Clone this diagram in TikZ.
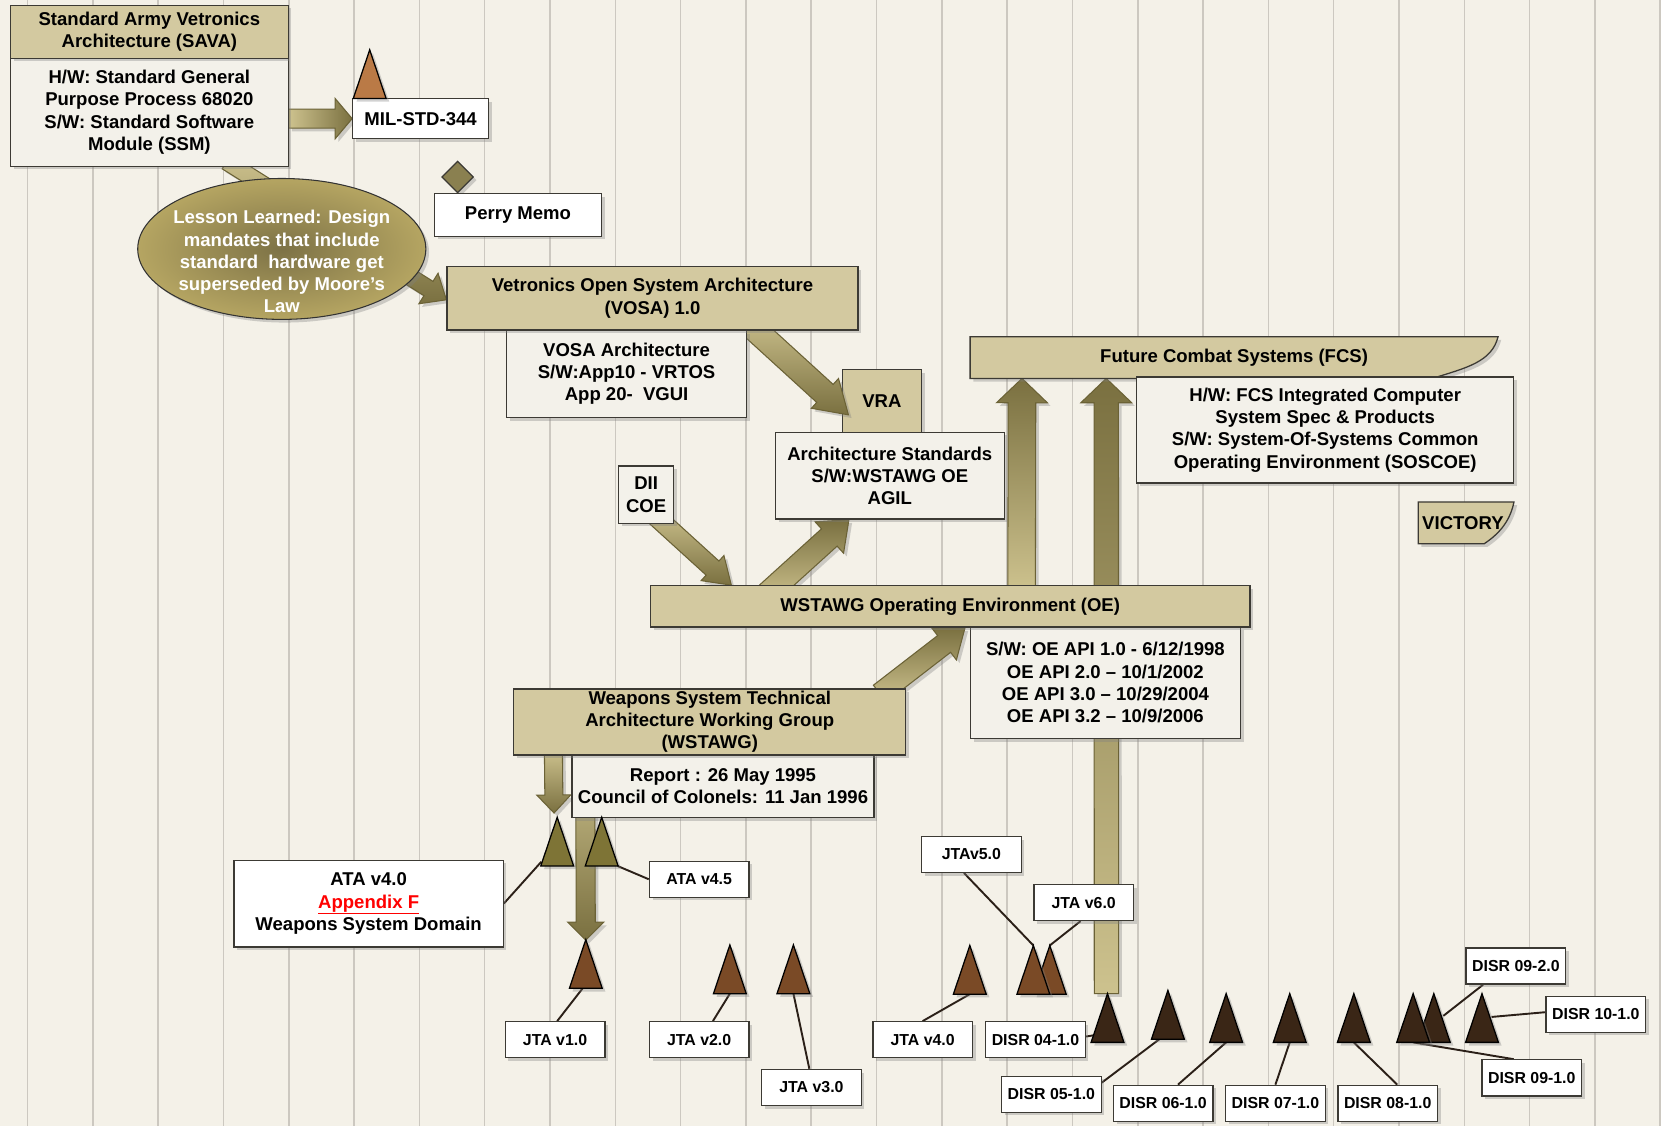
\documentclass[tikz,border=0pt]{standalone}
\usepackage{fontspec}
\setmainfont{Liberation Sans}
\usetikzlibrary{calc,shapes.geometric,shadows}

\definecolor{paper}{HTML}{F4F1E8}
\definecolor{rulegray}{HTML}{CCC8C0}
\definecolor{tan}{HTML}{D3C9A0}
\definecolor{pale}{HTML}{F3F1EA}
\definecolor{edge}{HTML}{3C3A34}
\definecolor{olivedk}{HTML}{7A7040}
\definecolor{olivelt}{HTML}{CDC28E}
\definecolor{oliveedge}{HTML}{6B6236}
\definecolor{goldlt}{HTML}{B5A562}
\definecolor{golddk}{HTML}{7D7246}
\definecolor{ataolive}{HTML}{7E7436}
\definecolor{jtabrown}{HTML}{7A4A26}
\definecolor{disrbrown}{HTML}{3A2616}
\definecolor{milbrown}{HTML}{BA7A46}
\definecolor{memoolive}{HTML}{8A8050}
\definecolor{lead}{HTML}{2B2018}

\pgfdeclarelayer{paper}
\pgfdeclarelayer{back}
\pgfsetlayers{paper,back,main}

\tikzset{
  shade/.style={drop shadow={shadow xshift=3pt, shadow yshift=-3pt, opacity=0.35}},
  box/.style={draw=edge, line width=1.2pt, align=center, inner sep=2pt, shade,
    font=\bfseries\fontsize{17.5}{21}\selectfont},
  hdr/.style={box, fill=tan},
  body/.style={box, fill=pale},
  note/.style={box, fill=white},
  tag/.style={box, fill=white, font=\bfseries\fontsize{15}{18}\selectfont,
    minimum width=94pt, minimum height=34pt},
  txt/.style={align=center, inner sep=0pt, font=\bfseries\fontsize{17.5}{21}\selectfont},
  flag/.style={draw=edge, line width=1.2pt, fill=tan, shade},
  fat/.style={draw=oliveedge, line width=1pt, top color=olivelt, bottom color=olivedk, shade},
  fatup/.style={fat, top color=olivedk, bottom color=olivelt},
  fatside/.style={fat, left color=olivelt, right color=olivedk},
  peakline/.style={draw=black, line width=1.2pt, shade},
  leader/.style={draw=lead, line width=1.8pt},
}

% block arrow: [style]{tail}{tip}{half shaft}{half head}{head length}
\newcommand{\fatarrow}[6][fat]{%
  \coordinate (fa-a) at (#2);
  \coordinate (fa-b) at (#3);
  \coordinate (fa-c) at ($(fa-b)!#6!(fa-a)$);
  \draw[#1] ($(fa-a)!#4!90:(fa-b)$) -- ($(fa-c)!#4!-90:(fa-a)$)
    -- ($(fa-c)!#5!-90:(fa-a)$) -- (fa-b) -- ($(fa-c)!#5!90:(fa-a)$)
    -- ($(fa-c)!#4!90:(fa-a)$) -- ($(fa-a)!#4!-90:(fa-b)$) -- cycle;
}

% milestone triangle: name, x, base y, colour
\newcommand{\peak}[4]{%
  \coordinate (#1) at (#2,#3);
  \draw[peakline, fill=#4] ($(#1)+(-15.5,0)$) -- ($(#1)+(0,-46)$) -- ($(#1)+(15.5,0)$) -- cycle;
}

\begin{document}
\begin{tikzpicture}[x=1pt, y=-1pt]
    \useasboundingbox (0,0) rectangle (1568,1063);
    \begin{pgfonlayer}{paper}
    \fill[paper] (0,0) rectangle (1568,1063);
    \foreach \x in {0,...,25}
        {\draw[rulegray, line width=1.4pt] ({26+61.65*\x},0) -- ({26+61.65*\x},1063);}
    \end{pgfonlayer}

    \node[body, minimum width=262pt, minimum height=102pt] (savab) at (141,106)
        {H/W: Standard General\\Purpose Process 68020\\S/W: Standard Software\\Module (SSM)};
    \node[hdr, minimum width=262pt, minimum height=50pt] (sava) at (141,30)
        {Standard Army Vetronics\\Architecture (SAVA)};
    \node[note, minimum width=128pt, minimum height=38pt] (mil) at (397,112) {MIL-STD-344};
    \node[diamond, draw=edge, line width=1.2pt, fill=memoolive, shade, inner sep=0pt,
        minimum width=30pt, minimum height=30pt] (memo) at (432,167) {};
    \node[note, minimum width=158pt, minimum height=40pt] (perry) at (489,203) {Perry Memo};
    \node[ellipse, draw=black!80, line width=1pt, inner color=golddk, outer color=goldlt,
        shade, minimum width=272pt, minimum height=133pt] (lesson) at (266,235) {};
    \node[txt, text=white] (lessontext) at ($(lesson.center)+(0,12)$)
        {Lesson Learned: Design\\mandates that include\\standard~ hardware get\\superseded by Moore’s\\Law};

    \node[body, minimum width=227pt, minimum height=82pt] (vosab) at (591.5,353)
        {VOSA Architecture\\S/W:App10 - VRTOS\\App 20-~ VGUI};
    \node[hdr, minimum width=388pt, minimum height=60pt] (vosa) at (616,281.5)
        {Vetronics Open System Architecture\\(VOSA) 1.0};
    \node[body, minimum width=216pt, minimum height=82pt] (arch) at (840,449)
        {Architecture Standards\\S/W:WSTAWG OE\\AGIL};
    \node[body, minimum width=52pt, minimum height=54pt] (dii) at (610,467) {DII\\COE};

    \node[txt, minimum width=498pt, minimum height=39pt] (fcs) at (1165,337.5)
        {Future Combat Systems (FCS)};
    \node[body, minimum width=356pt, minimum height=100pt] (fcsb) at (1251,406)
        {H/W: FCS Integrated Computer\\System Spec \& Products\\S/W: System-Of-Systems Common\\Operating Environment (SOSCOE)};
    \node[txt, minimum width=90pt, minimum height=39pt] (victory) at (1384,493.5) {\hspace*{-6pt}VICTORY};

    \node[body, minimum width=255pt, minimum height=105pt] (oeb) at (1043.5,644.5)
        {S/W: OE API 1.0 - 6/12/1998\\OE API 2.0 – 10/1/2002\\OE API 3.0 – 10/29/2004\\OE API 3.2 – 10/9/2006};
    \node[hdr, minimum width=566pt, minimum height=39pt] (oe) at (897,572.5)
        {WSTAWG Operating Environment (OE)};
    \node[body, minimum width=285pt, minimum height=60pt] (wstawgb) at (682.5,742)
        {Report : 26 May 1995\\Council of Colonels: 11 Jan 1996};
    \node[hdr, minimum width=370pt, minimum height=61pt] (wstawg) at (670,681.5)
        {Weapons System Technical\\Architecture Working Group\\(WSTAWG)};

    \node[note, minimum width=254pt, minimum height=82pt] (ata) at (348,853)
        {ATA v4.0\\\textcolor{red}{\underline{Appendix F}}\\Weapons System Domain};
    \node[tag] (ata45) at (660,830) {ATA v4.5};
    \node[tag] (jta1) at (524,981.5) {JTA v1.0};
    \node[tag] (jta2) at (660,981.5) {JTA v2.0};
    \node[tag] (jta3) at (766,1026.5) {JTA v3.0};
    \node[tag] (jta4) at (871,981.5) {JTA v4.0};
    \node[tag] (jta5) at (917,806.5) {JTAv5.0};
    \node[tag] (jta6) at (1023,852) {JTA v6.0};
    \node[tag] (disr04) at (977.5,981.5) {DISR 04-1.0};
    \node[tag] (disr05) at (992.5,1033) {DISR 05-1.0};
    \node[tag] (disr06) at (1098,1041.5) {DISR 06-1.0};
    \node[tag] (disr07) at (1204,1041.5) {DISR 07-1.0};
    \node[tag] (disr08) at (1310,1041.5) {DISR 08-1.0};
    \node[tag] (disr091) at (1446,1017.5) {DISR 09-1.0};
    \node[tag] (disr092) at (1431,912) {DISR 09-2.0};
    \node[tag] (disr10) at (1506.5,957.5) {DISR 10-1.0};

    \peak{pmil}{349}{93}{milbrown}
    \peak{pata1}{526}{817.5}{ataolive}
    \peak{pata2}{568}{817.5}{ataolive}
    \peak{pjta1}{553}{933}{jtabrown}
    \peak{pjta2}{689}{938}{jtabrown}
    \peak{pjta3}{749}{938}{jtabrown}
    \peak{pjta4}{915.5}{938.5}{jtabrown}
    \peak{pjta6}{991}{938.5}{jtabrown}
    \peak{pjta5}{975.5}{938.5}{jtabrown}
    \peak{pd04}{1045.5}{984}{disrbrown}
    \peak{pd05}{1102.5}{981}{disrbrown}
    \peak{pd06}{1157.5}{984}{disrbrown}
    \peak{pd07}{1217.5}{984}{disrbrown}
    \peak{pd08}{1278}{984}{disrbrown}
    \peak{pd092}{1353.5}{984}{disrbrown}
    \peak{pd091}{1334}{984}{disrbrown}
    \peak{pd10}{1399}{984}{disrbrown}

    \begin{pgfonlayer}{back}
    \draw[leader] (ata.east) -- ($(pata1)+(-15,-4)$);
    \draw[leader] ($(pata2)+(15,0)$) -- (ata45.west);
    \draw[leader] ($(jta1.north)+(2,0)$) -- ($(pjta1)+(-3,0)$);
    \draw[leader] ($(jta2.north)+(13,0)$) -- (pjta2);
    \draw[leader] ($(jta3.north)+(-2,0)$) -- (pjta3);
    \draw[leader] (jta4.north) -- (pjta4);
    \draw[leader] ($(jta5.south)+(-7,0)$) -- ($(pjta5)+(0,-46)$);
    \draw[leader] ($(jta6.south)+(-3,0)$) -- ($(pjta6)+(0,-46)$);
    \draw[leader] ($(disr04.east)+(0,-3)$) -- ($(pd04)+(-11,-7)$);
    \draw[leader] ($(disr05.east)+(0,-11)$) -- ($(pd05)+(-8,0)$);
    \draw[leader] ($(disr06.north)+(14,0)$) -- (pd06);
    \draw[leader] (disr07.north) -- (pd07);
    \draw[leader] ($(disr08.north)+(9,0)$) -- (pd08);
    \draw[leader] (pd091) -- ($(disr091.north)+(-17,0)$);
    \draw[leader] ($(disr092.south)+(-31,0)$) -- ($(pd092)+(9,-25)$);
    \draw[leader] ($(disr10.west)+(0,-2)$) -- ($(pd10)+(9,-24)$);

    \fatarrow[fatside]{savab.east |- mil.west}{mil.west}{9pt}{19pt}{16pt}
    \fatarrow{$(savab.south)+(73,-5)$}{$(vosa.west)+(0,1.5)$}{8pt}{17pt}{20pt}
    \fatarrow{$(dii.south)+(8,-8)$}{$(oe.north west)+(77,0)$}{9pt}{16pt}{24pt}
    \fatarrow[fatup]{$(oe.north west)+(111,8)$}{$(arch.south west)+(70,0)$}{11pt}{20pt}{25pt}
    \fatarrow[fatup]{$(wstawg.north east)+(-25,5)$}{$(oe.south)+(14,0)$}{10pt}{19pt}{25pt}
    \fatarrow[fatup]{$(oe.north west)+(351,5)$}{$(fcs.south west)+(49,0)$}{13pt}{24pt}{23pt}
    \fatarrow[fatup]{$(pd04)+(-1,-46)$}{$(fcs.south west)+(128.5,0)$}{11.5pt}{24pt}{23pt}
    \fatarrow{$(wstawg.south west)+(38,-5)$}{$(pata1)+(-3,-50)$}{8.5pt}{16pt}{17pt}
    \fatarrow{$(wstawg.south west)+(68,-5)$}{$(pjta1)+(0,-45.5)$}{9pt}{17pt}{17pt}

    \node[hdr, minimum width=75pt, minimum height=59pt] (vra) at (832.5,378.5) {VRA};
    \fatarrow{$(vosa.south)+(89,-8)$}{$(vra.south west)+(6.5,-17)$}{11.5pt}{19pt}{30pt}

    \draw[flag] (fcs.south west) -- (fcs.north west) -- (fcs.north east)
        .. controls ($(fcs.north east)+(-6,24)$) and ($(fcs.south east)+(-30,-10)$)
        .. ($(fcs.south east)+(-62,0)$) -- cycle;
    \draw[flag] (victory.south west) -- (victory.north west) -- (victory.north east)
        .. controls ($(victory.north east)+(-4,20)$) and ($(victory.south east)+(-16,-8)$)
        .. ($(victory.south east)+(-28,0)$) -- cycle;
    \end{pgfonlayer}
\end{tikzpicture}
\end{document}
